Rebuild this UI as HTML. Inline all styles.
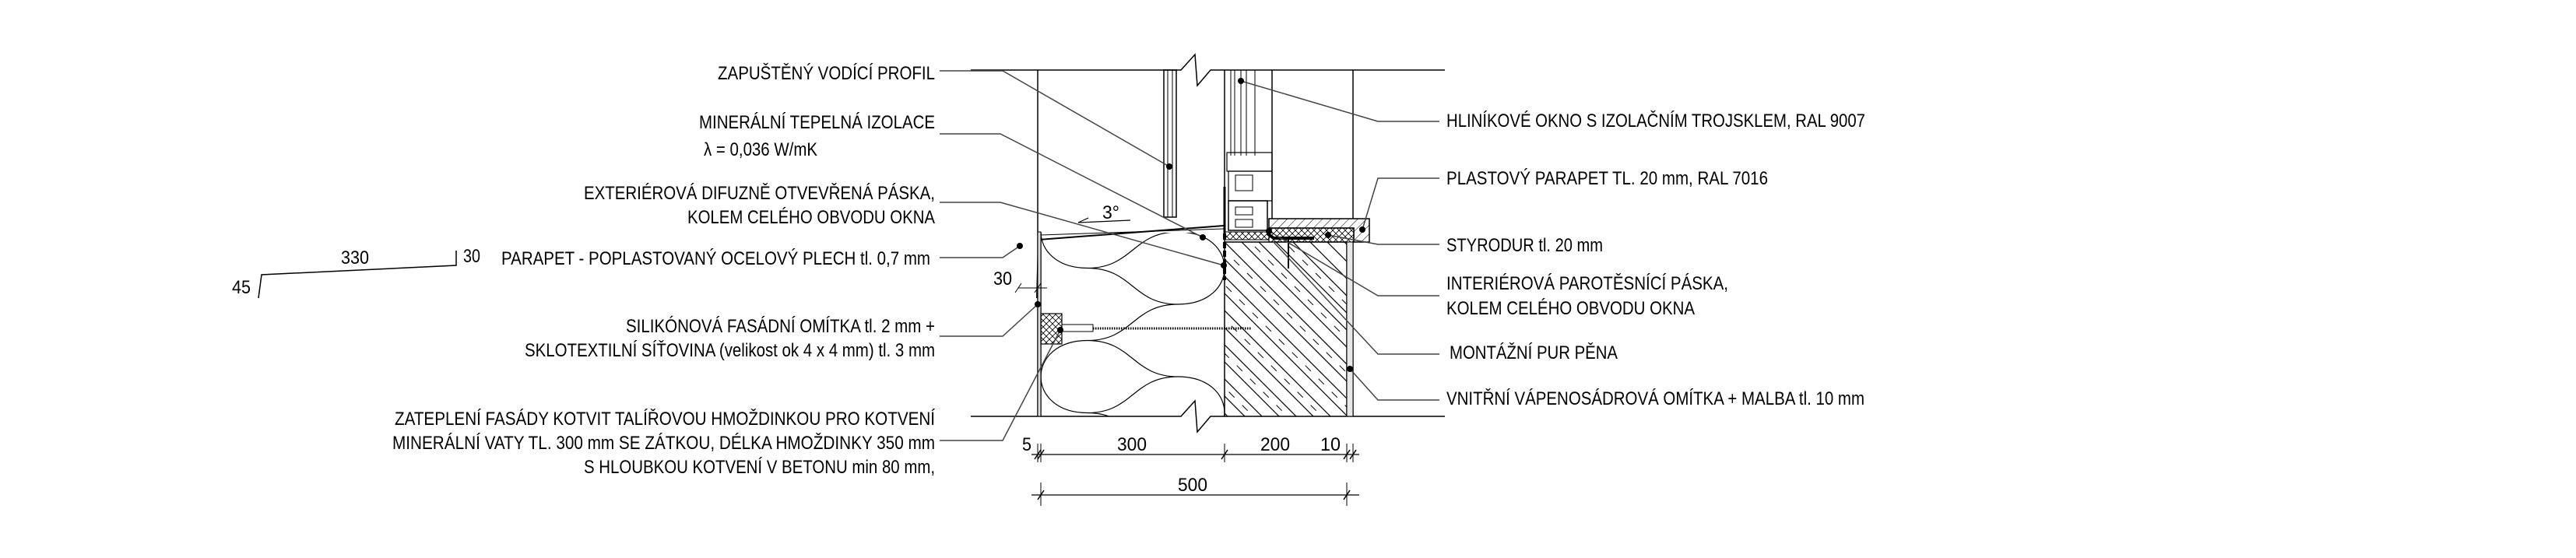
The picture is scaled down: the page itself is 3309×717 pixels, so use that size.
<!DOCTYPE html>
<html><head><meta charset="utf-8"><style>
html,body{margin:0;padding:0;background:#fff;}
svg{display:block;}
text{font-family:"Liberation Sans",sans-serif;font-size:24px;fill:#000;}
</style></head><body>
<svg width="3309" height="717" viewBox="0 0 3309 717" xmlns="http://www.w3.org/2000/svg">
<defs>
<clipPath id="ins"><rect x="1337" y="299" width="236" height="236"/></clipPath>
<clipPath id="wall"><rect x="1573" y="311" width="157" height="224"/></clipPath>
<pattern id="sillh" width="8" height="8" patternUnits="userSpaceOnUse" patternTransform="rotate(45)"><line x1="0" y1="0" x2="0" y2="8" stroke="#000" stroke-width="1"/></pattern>
<pattern id="xh" width="8" height="8" patternUnits="userSpaceOnUse"><path d="M0 0L8 8M8 0L0 8" stroke="#000" stroke-width="0.8"/></pattern>
</defs>
<rect width="3309" height="717" fill="#fff"/>
<g stroke="#000" fill="none" stroke-width="1.5">
<!-- top & bottom break lines -->
<path d="M1247 90H1517L1535 70L1538 110L1555 90H1856"/>
<path d="M1247 535H1517L1535 515L1538 555L1555 535H1856"/>
<!-- vertical lines -->
<line x1="1333" y1="90" x2="1333" y2="535"/>
<line x1="1337" y1="298" x2="1337" y2="535"/>
<line x1="1573" y1="90" x2="1573" y2="535"/>
<line x1="1634" y1="90" x2="1634" y2="281"/>
<line x1="1738" y1="90" x2="1738" y2="281"/>
<line x1="1730" y1="311" x2="1730" y2="535"/>
<line x1="1738" y1="311" x2="1738" y2="535"/>
<!-- guide profile -->
<rect x="1495" y="90" width="16" height="189"/>
<line x1="1500" y1="90" x2="1500" y2="279" stroke-width="1"/>
<line x1="1506" y1="90" x2="1506" y2="279" stroke-width="1"/>
<!-- window glass -->
<line x1="1581" y1="90" x2="1581" y2="200" stroke-width="1"/>
<line x1="1586" y1="90" x2="1586" y2="200" stroke-width="1"/>
<line x1="1594" y1="90" x2="1594" y2="200" stroke-width="1"/>
<line x1="1601" y1="90" x2="1601" y2="200" stroke-width="1"/>
<line x1="1612" y1="90" x2="1612" y2="200" stroke-width="1"/>
<!-- window frame -->
<rect x="1576" y="196" width="58" height="24" stroke-width="1.2"/>
<rect x="1578" y="220" width="56" height="38" stroke-width="1.2"/>
<rect x="1587" y="225" width="22" height="20" stroke-width="1"/>
<rect x="1578" y="258" width="50" height="38" stroke-width="1.5"/>
<rect x="1587" y="266" width="22" height="10" stroke-width="1"/>
<rect x="1587" y="282" width="22" height="10" stroke-width="1"/>
<line x1="1573" y1="240" x2="1573" y2="300" stroke-width="3"/>
<!-- sill board -->
<path d="M1630 281H1759V311H1739V293H1630Z" fill="url(#sillh)"/>
<rect x="1630" y="293" width="109" height="18" fill="url(#xh)" stroke-width="1.2"/>
<rect x="1573" y="298" width="57" height="10" fill="url(#xh)" stroke-width="1"/>
<path d="M1628 300L1636 306H1688" stroke-width="4"/>
<line x1="1655" y1="306" x2="1655" y2="345" stroke-width="2"/>
<line x1="1573" y1="311" x2="1730" y2="311"/>
<!-- tape -->
<line x1="1573" y1="300" x2="1573" y2="360" stroke-width="4" stroke-dasharray="8 3"/>
<!-- metal sill -->
<path d="M1332 383L1334 308L1572 290" stroke-width="2"/>
<line x1="1337" y1="302" x2="1572" y2="294" stroke-width="1"/>
<!-- plaster stipple -->
<rect x="1333" y="298" width="4" height="237" fill="#ddd" stroke-width="1"/>
<rect x="1730" y="311" width="8" height="224" fill="#e8e8e8" stroke-width="1"/>
<!-- insulation wool -->
<g clip-path="url(#ins)" stroke-width="1.2">
<path d="M1397 251.5C1455 251.5 1455 298 1513 298 M1397 344.5C1455 344.5 1455 391 1513 391 M1397 437.5C1455 437.5 1455 484 1513 484 M1397 530.5C1455 530.5 1455 577 1513 577
M1397 251.5C1455 251.5 1455 205 1513 205 M1397 344.5C1455 344.5 1455 298 1513 298 M1397 437.5C1455 437.5 1455 391 1513 391 M1397 530.5C1455 530.5 1455 484 1513 484
M1397 251.5C1317 251.5 1317 344.5 1397 344.5 M1397 437.5C1317 437.5 1317 530.5 1397 530.5
M1513 298C1593 298 1593 391 1513 391 M1513 484C1593 484 1593 577 1513 577 M1513 205C1593 205 1593 298 1513 298"/>
</g>
<!-- concrete hatch -->
<g clip-path="url(#wall)" stroke-width="1.2">
<path d="M1540 300L1790 550M1562 300L1812 550M1584 300L1834 550M1606 300L1856 550M1628 300L1878 550M1650 300L1900 550M1672 300L1922 550M1694 300L1944 550M1716 300L1966 550M1518 300L1768 550M1496 300L1746 550M1474 300L1724 550M1452 300L1702 550M1430 300L1680 550M1408 300L1658 550M1386 300L1636 550M1364 300L1614 550M1342 300L1592 550"/>
<path d="M1551 300L1801 550M1595 300L1845 550M1639 300L1889 550M1507 300L1757 550M1463 300L1713 550M1419 300L1669 550M1375 300L1625 550" stroke-dasharray="10 14" stroke-width="1"/>
</g>
<!-- anchor -->
<rect x="1337" y="403" width="27" height="39" fill="url(#xh)" stroke-width="1.2"/>
<rect x="1364" y="417" width="40" height="9" stroke-width="1"/>
<line x1="1404" y1="422" x2="1607" y2="422" stroke-width="3" stroke-dasharray="1.5 1.5"/>
<!-- 3 deg arrow -->
<line x1="1385" y1="286" x2="1452" y2="283" stroke-width="1.2"/>
<path d="M1385 286L1398 280" stroke-width="1.2"/>
<!-- 30 dim -->
<path d="M1308 370H1345M1304 376L1312 364M1329 376L1337 364" stroke-width="1"/>
<!-- dimensions -->
<path d="M1325 584H1746" stroke-width="1.2"/>
<path d="M1333 570V594M1337 570V594M1573 570V594M1730 570V594M1738 570V594" stroke-width="1"/>
<path d="M1329 590L1337 578M1333 590L1341 578M1569 590L1577 578M1726 590L1734 578M1734 590L1742 578" stroke-width="1.5"/>
<path d="M1325 636H1746" stroke-width="1.2"/>
<path d="M1337 620V650M1730 620V650" stroke-width="1"/>
<path d="M1333 642L1341 630M1726 642L1734 630" stroke-width="1.5"/>
<!-- sketch 330 -->
<path d="M332 383L336 353L586 341V322" stroke-width="1.5"/>
<!-- left leaders -->
<path d="M1207 91H1288L1502 214" stroke="#444"/>
<path d="M1207 172H1285L1545 305" stroke="#444"/>
<path d="M1207 260H1285L1572 341" stroke="#444"/>
<path d="M1207 331H1288L1310 316" stroke="#444"/>
<path d="M1207 432H1288L1333 391" stroke="#444"/>
<path d="M1207 566H1288L1362 424" stroke="#444"/>
<!-- right leaders -->
<path d="M1594 104L1770 156H1849" stroke="#444"/>
<path d="M1750 295L1770 229H1849" stroke="#444"/>
<path d="M1706 302L1770 314H1849" stroke="#444"/>
<path d="M1630 297L1770 380H1849" stroke="#444"/>
<path d="M1635 310L1770 455H1849" stroke="#444"/>
<path d="M1734 474L1770 514H1849" stroke="#444"/>
</g>
<g fill="#000">
<circle cx="1502" cy="214" r="4"/><circle cx="1545" cy="305" r="4"/><circle cx="1572" cy="341" r="4"/>
<circle cx="1310" cy="316" r="4"/><circle cx="1333" cy="391" r="4"/><circle cx="1362" cy="424" r="4"/>
<circle cx="1594" cy="104" r="4"/><circle cx="1750" cy="295" r="4"/><circle cx="1706" cy="302" r="4"/>
<circle cx="1630" cy="297" r="4"/><circle cx="1734" cy="474" r="4"/>
</g>
<!-- left labels -->
<text x="922" y="102" textLength="279" lengthAdjust="spacingAndGlyphs">ZAPUŠTĚNÝ VODÍCÍ PROFIL</text>
<text x="898" y="165" textLength="303" lengthAdjust="spacingAndGlyphs">MINERÁLNÍ TEPELNÁ IZOLACE</text>
<text x="904" y="200" textLength="146" lengthAdjust="spacingAndGlyphs">λ = 0,036 W/mK</text>
<text x="750" y="256" textLength="451" lengthAdjust="spacingAndGlyphs">EXTERIÉROVÁ DIFUZNĚ OTVEVŘENÁ PÁSKA,</text>
<text x="883" y="287" textLength="318" lengthAdjust="spacingAndGlyphs">KOLEM CELÉHO OBVODU OKNA</text>
<text x="644" y="340" textLength="551" lengthAdjust="spacingAndGlyphs">PARAPET - POPLASTOVANÝ OCELOVÝ PLECH tl. 0,7 mm</text>
<text x="804" y="427" textLength="397" lengthAdjust="spacingAndGlyphs">SILIKÓNOVÁ FASÁDNÍ OMÍTKA tl. 2 mm +</text>
<text x="674" y="458" textLength="527" lengthAdjust="spacingAndGlyphs">SKLOTEXTILNÍ SÍŤOVINA (velikost ok 4 x 4 mm) tl. 3 mm</text>
<text x="507" y="546" textLength="694" lengthAdjust="spacingAndGlyphs">ZATEPLENÍ FASÁDY KOTVIT TALÍŘOVOU HMOŽDINKOU PRO KOTVENÍ</text>
<text x="504" y="577" textLength="697" lengthAdjust="spacingAndGlyphs">MINERÁLNÍ  VATY TL. 300 mm SE ZÁTKOU, DÉLKA HMOŽDINKY 350 mm</text>
<text x="750" y="608" textLength="451" lengthAdjust="spacingAndGlyphs">S HLOUBKOU KOTVENÍ V BETONU min 80 mm,</text>
<text x="438" y="339" textLength="36" lengthAdjust="spacingAndGlyphs">330</text>
<text x="595" y="337" textLength="22" lengthAdjust="spacingAndGlyphs">30</text>
<text x="298" y="377" textLength="24" lengthAdjust="spacingAndGlyphs">45</text>
<!-- right labels -->
<text x="1858" y="163" textLength="538" lengthAdjust="spacingAndGlyphs">HLINÍKOVÉ OKNO S IZOLAČNÍM TROJSKLEM, RAL 9007</text>
<text x="1858" y="237" textLength="413" lengthAdjust="spacingAndGlyphs">PLASTOVÝ PARAPET TL. 20 mm, RAL 7016</text>
<text x="1858" y="323" textLength="201" lengthAdjust="spacingAndGlyphs">STYRODUR tl. 20 mm</text>
<text x="1858" y="372" textLength="362" lengthAdjust="spacingAndGlyphs">INTERIÉROVÁ PAROTĚSNÍCÍ PÁSKA,</text>
<text x="1858" y="404" textLength="319" lengthAdjust="spacingAndGlyphs">KOLEM CELÉHO OBVODU OKNA</text>
<text x="1862" y="461" textLength="216" lengthAdjust="spacingAndGlyphs">MONTÁŽNÍ PUR PĚNA</text>
<text x="1858" y="520" textLength="537" lengthAdjust="spacingAndGlyphs">VNITŘNÍ VÁPENOSÁDROVÁ OMÍTKA + MALBA tl. 10 mm</text>
<!-- dims -->
<text x="1416" y="281" textLength="22" lengthAdjust="spacingAndGlyphs">3°</text>
<text x="1276" y="366" textLength="24" lengthAdjust="spacingAndGlyphs">30</text>
<text x="1313" y="579" textLength="12" lengthAdjust="spacingAndGlyphs">5</text>
<text x="1435" y="579" textLength="38" lengthAdjust="spacingAndGlyphs">300</text>
<text x="1619" y="579" textLength="38" lengthAdjust="spacingAndGlyphs">200</text>
<text x="1696" y="579" textLength="26" lengthAdjust="spacingAndGlyphs">10</text>
<text x="1513" y="631" textLength="38" lengthAdjust="spacingAndGlyphs">500</text>
</svg>
</body></html>
